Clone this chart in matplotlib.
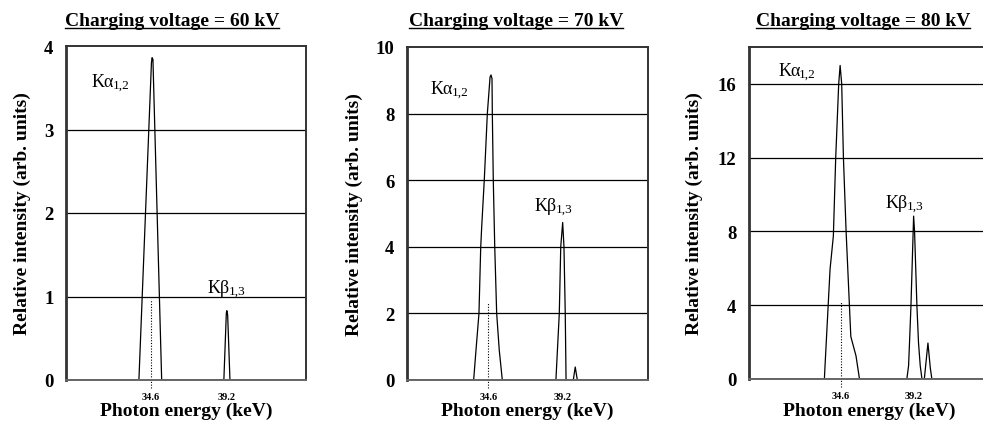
import matplotlib
matplotlib.use("Agg")
import matplotlib.pyplot as plt
from matplotlib.lines import Line2D

plt.rcParams["font.family"] = ["Liberation Serif", "DejaVu Serif"]

# --- data ---
titles = ["Charging voltage = 60 kV", "Charging voltage = 70 kV", "Charging voltage = 80 kV"]

energy_60 = [29.45, 33.87, 34.63, 34.67, 34.72, 35.25, 39.02, 39.17, 39.20, 39.25, 39.39, 44.0]
intensity_60 = [0, 0, 3.80, 3.86, 3.84, 0, 0, 0.80, 0.83, 0.78, 0, 0]

energy_70 = [29.55, 33.69, 33.82, 34.02, 34.13, 34.19, 34.35, 34.54, 34.71, 34.77, 34.83,
             34.85, 34.91, 35.00, 35.12, 35.28, 35.47, 38.80, 39.01, 39.10, 39.22, 39.30,
             39.38, 39.43, 39.88, 40.00, 40.13, 44.5]
intensity_70 = [0, 0, 0.8, 2.0, 4.0, 4.6, 6.0, 8.0, 9.1, 9.16, 9.05,
                8.0, 6.0, 4.0, 2.0, 0.9, 0, 0, 2.0, 4.0, 4.73, 4.0,
                2.0, 0, 0, 0.39, 0, 0]

energy_80 = [28.75, 33.54, 33.58, 33.69, 33.90, 34.11, 34.26, 34.45, 34.54, 34.64, 34.75,
             34.92, 35.13, 35.22, 35.55, 35.77, 38.78, 38.89, 38.95, 39.04, 39.21, 39.27,
             39.42, 39.52, 39.63, 39.74, 39.89, 40.12, 40.27, 40.37, 44.0]
intensity_80 = [0, 0, 0.7, 2.5, 5.95, 7.75, 12.0, 16.0, 17.0, 16.0, 12.0,
                8.0, 4.0, 2.3, 1.25, 0, 0, 0.72, 1.98, 3.95, 8.83, 8.0,
                3.95, 1.98, 0.72, 0, 0, 1.95, 0.6, 0, 0]

energies = [energy_60, energy_70, energy_80]
intensities = [intensity_60, intensity_70, intensity_80]

xlims = [(29.45, 44.0), (29.55, 44.52), (28.75, 44.0)]
ymaxes = [4, 10, 18]
yticks = [[0, 1, 2, 3, 4], [0, 2, 4, 6, 8, 10], [0, 4, 8, 12, 16]]
xticks = [34.6, 39.2]
marker_tops = [0.97, 2.34, 4.2]   # dotted line height at 34.6 keV

peak_names = [("Kα", "1,2"), ("Kβ", "1,3")]
ka_pos = [(31.0, 3.57), (31.0, 8.74), (30.6, 16.75)]
kb_pos = [(38.05, 1.11), (37.5, 5.23), (37.45, 9.55)]

W, H = 983, 427
fig = plt.figure(figsize=(W / 100, H / 100), dpi=100)

# axes boxes in pixels: left, right, top, bottom
boxes = [(66, 306, 47, 381), (407, 648, 48, 381), (749, 989, 48, 380)]
title_x = [172, 516, 863]
ylabel_x = [22, 354, 694]

peak_labels = []
for i in range(3):
    l, r, t, b = boxes[i]
    ax = fig.add_axes([l / W, 1 - b / H, (r - l) / W, (b - t) / H])
    ax.plot(energies[i], intensities[i], color="black", lw=0.9)
    ax.set_xlim(*xlims[i])
    ax.set_ylim(0, ymaxes[i])
    ax.set_yticks(yticks[i])
    ax.set_xticks(xticks)
    ax.set_xticklabels([f"{v:.1f}" for v in xticks], fontsize=7.5, fontweight="bold")
    ax.set_yticklabels([str(v) for v in yticks[i]], fontsize=13.5, fontweight="bold")
    ax.tick_params(axis="y", length=0, pad=9)
    ax.tick_params(axis="x", length=0, pad=9)
    for v in yticks[i][1:]:
        if v < ymaxes[i] - 1e-9:
            ax.axhline(v, color="black", lw=0.9, zorder=1)
    for s in ax.spines.values():
        s.set_color("#333333")
        s.set_linewidth(1.4)
    ax.spines["left"].set_linewidth(2.0)
    ax.spines["bottom"].set_color("#666666")
    ax.vlines(34.6, -0.025 * ymaxes[i], marker_tops[i], colors="black",
              linestyles=(0, (1, 1.5)), lw=0.8, clip_on=False)

    for (name, sub), pos in zip(peak_names, [ka_pos[i], kb_pos[i]]):
        main = ax.text(pos[0], pos[1], name, fontsize=13, va="center")
        peak_labels.append((ax, main, sub))

    ax.set_xlabel("Photon energy (keV)", fontsize=14, fontweight="bold", va="center")
    ax.xaxis.set_label_coords(0.5, -(411 - b) / (b - t))
    ax.set_ylabel("Relative intensity (arb. units)", fontsize=14, fontweight="bold", va="center")
    ax.yaxis.set_label_coords((ylabel_x[i] - l) / (r - l), 0.5)

title_texts = []
for i in range(3):
    txt = fig.text(title_x[i] / W, 1 - 26 / H, titles[i], fontsize=14,
                   fontweight="bold", ha="center", va="baseline")
    title_texts.append(txt)

fig.canvas.draw()
renderer = fig.canvas.get_renderer()

# subscripts placed right after the main label
for ax, main, sub in peak_labels:
    bb = main.get_window_extent(renderer)
    ax.annotate(sub, xy=(bb.x1, bb.y0), xycoords="figure pixels",
                xytext=(-1.0, -0.5), textcoords="offset points",
                fontsize=9.5, va="bottom", ha="left")

for txt in title_texts:
    bb = txt.get_window_extent(renderer)
    y_line = 1 - 28.5 / H
    fig.add_artist(Line2D([bb.x0 / W, bb.x1 / W], [y_line, y_line],
                          transform=fig.transFigure, color="black", lw=1.0))

fig.savefig("out.png", dpi=100)
